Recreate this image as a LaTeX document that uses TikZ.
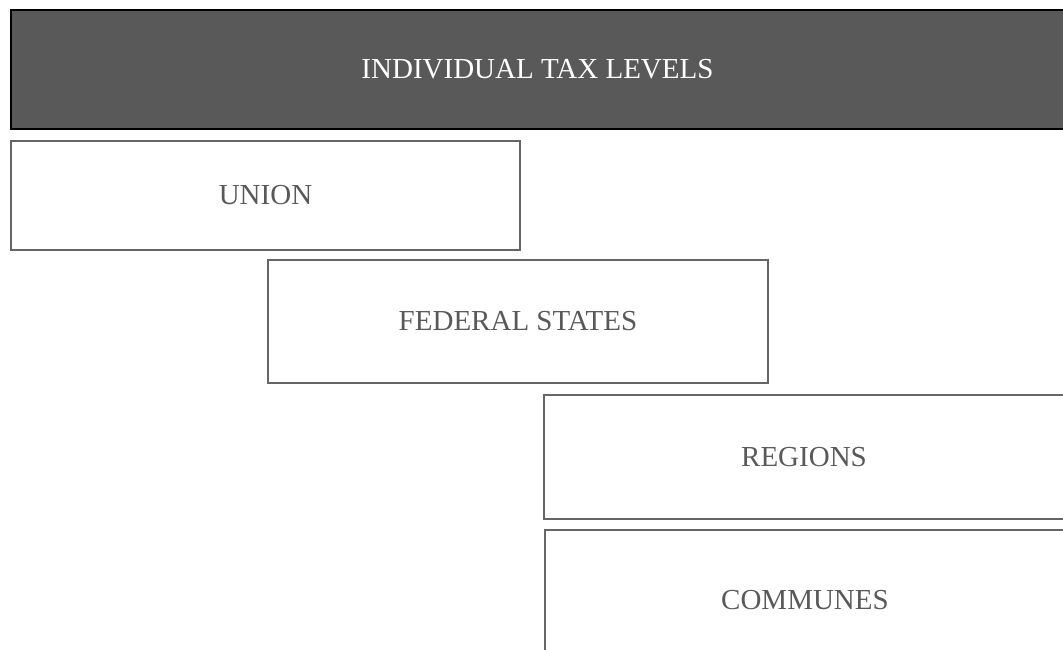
\documentclass[tikz,border=0pt]{standalone}
\usepackage{fontspec}
\setmainfont{Liberation Serif}
\usepackage{xcolor}
\usetikzlibrary{positioning}

\definecolor{bargray}{HTML}{595959}
\definecolor{linegray}{HTML}{666666}
\definecolor{textgray}{HTML}{595959}

\begin{document}
\begin{tikzpicture}[
    x=1pt, y=1pt,
    levelbox/.style={draw=linegray, line width=1.5pt, rectangle, inner sep=0pt, outer sep=0pt, text=textgray, font=\fontsize{29}{34}\selectfont},
    headbox/.style={levelbox, draw=black, line width=2.5pt, fill=bargray, text=white}
]
\useasboundingbox (0,0) rectangle (1063,650);
\clip (0,0) rectangle (1063,650);

\node[headbox, minimum width=1053pt, minimum height=119pt, anchor=north west] (head) at (11,640) {INDIVIDUAL TAX LEVELS};
\node[levelbox, minimum width=509pt, minimum height=109pt, below right=12pt and 0pt of head.south west] (union) {UNION};
\node[levelbox, minimum width=500pt, minimum height=123pt, below right=10pt and -252pt of union.south east] (federal) {FEDERAL STATES};
\node[levelbox, minimum width=520pt, minimum height=124pt, below right=12pt and -224pt of federal.south east] (regions) {REGIONS};
\node[levelbox, minimum width=520pt, minimum height=140pt, below right=11pt and 1pt of regions.south west] (communes) {COMMUNES};
\end{tikzpicture}
\end{document}
